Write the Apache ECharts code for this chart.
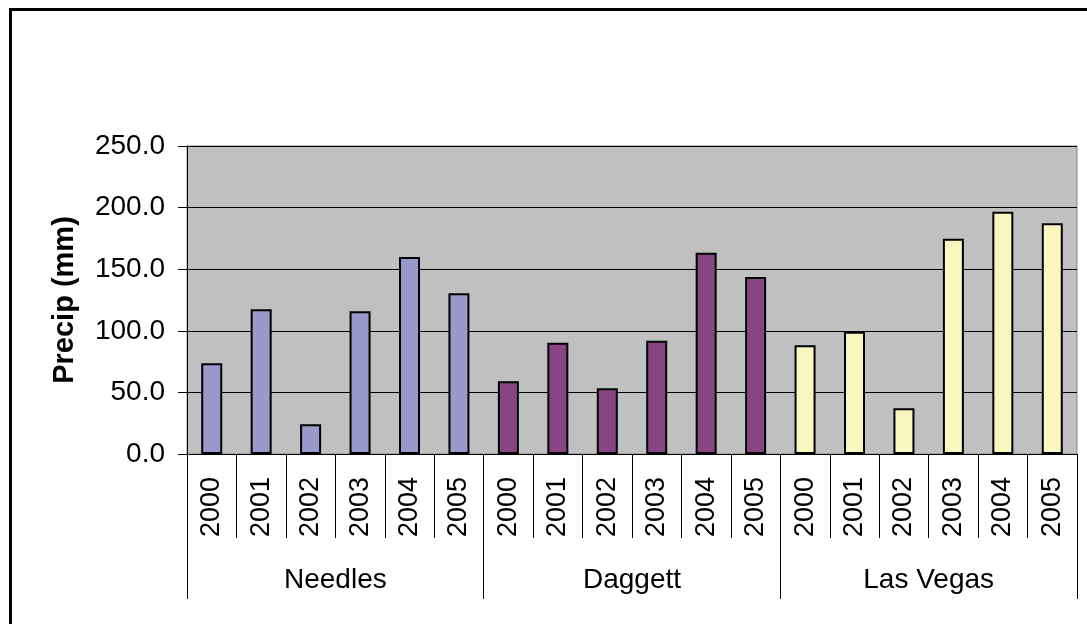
<!DOCTYPE html>
<html>
<head>
<meta charset="utf-8">
<script src="https://cdn.jsdelivr.net/npm/echarts@6/dist/echarts.min.js"></script>
<style>
html,body{margin:0;padding:0;background:#fff;}
#chart{width:1087px;height:624px;}
</style>
</head>
<body>
<div id="chart"></div>
<script>
var stations = ['Needles', 'Daggett', 'Las Vegas'];
var years = ['2000', '2001', '2002', '2003', '2004', '2005'];
var needles = [73.6, 117.4, 24.1, 115.8, 159.9, 130.4];
var daggett = [59.0, 90.4, 53.3, 92.0, 163.4, 143.7];
var lasVegas = [88.2, 99.3, 37.1, 174.8, 196.7, 187.2];
var yTicks = [0, 50, 100, 150, 200, 250];

var colors = ['#9999CC', '#884483', '#FAF6C0'];
var groups = [needles, daggett, lasVegas];

var yearCats = [];
stations.forEach(function (s) { years.forEach(function (y) { yearCats.push(y); }); });

var series = groups.map(function (vals, gi) {
  var data = [];
  groups.forEach(function (g, gj) {
    vals.forEach(function (v, k) { data.push(gj === gi ? v : '-'); });
  });
  return {
    type: 'bar',
    name: stations[gi],
    xAxisIndex: 0,
    data: data,
    barWidth: 21,
    barGap: '-100%',
    itemStyle: { color: colors[gi], borderColor: '#000', borderWidth: 2 }
  };
});

var font = 'Liberation Sans, Arial, sans-serif';
var chart = echarts.init(document.getElementById('chart'));
chart.setOption({
  animation: false,
  backgroundColor: '#fff',
  graphic: [{
    type: 'rect',
    shape: { x: 10.5, y: 9.5, width: 1100, height: 640 },
    style: { fill: 'none', stroke: '#000', lineWidth: 3 },
    z: 100
  }],
  grid: {
    left: 187, right: 10, top: 146, bottom: 170,
    show: true, backgroundColor: '#C0C0C0', borderColor: '#888', borderWidth: 1
  },
  xAxis: [{
    type: 'category',
    data: yearCats,
    position: 'bottom',
    axisLine: { show: true, lineStyle: { color: '#000', width: 1 } },
    axisTick: { show: true, interval: 0, length: 84, lineStyle: { color: '#000', width: 1 } },
    axisLabel: { interval: 0, rotate: 90, margin: 23, color: '#000', fontSize: 27, fontFamily: font },
    splitLine: { show: false }
  }, {
    type: 'category',
    data: stations,
    position: 'bottom',
    axisLine: { show: false },
    axisTick: { show: true, interval: 0, length: 145, lineStyle: { color: '#000', width: 1 } },
    axisLabel: { interval: 0, margin: 112, color: '#000', fontSize: 28, fontFamily: font },
    splitLine: { show: false }
  }],
  yAxis: {
    type: 'value',
    min: yTicks[0], max: yTicks[yTicks.length - 1], interval: 50,
    name: 'Precip (mm)',
    nameLocation: 'middle',
    nameRotate: 90,
    nameGap: 108,
    nameTextStyle: { color: '#000', fontSize: 29, fontWeight: 'bold', fontFamily: font },
    axisLine: { show: true, lineStyle: { color: '#000', width: 1 } },
    axisTick: { show: true, length: 9, lineStyle: { color: '#000' } },
    axisLabel: { margin: 22, color: '#000', fontSize: 28, fontFamily: font,
      formatter: function (v) { return v.toFixed(1); } },
    splitLine: { show: true, lineStyle: { color: '#000', width: 1 } }
  },
  series: series
});
</script>
</body>
</html>
